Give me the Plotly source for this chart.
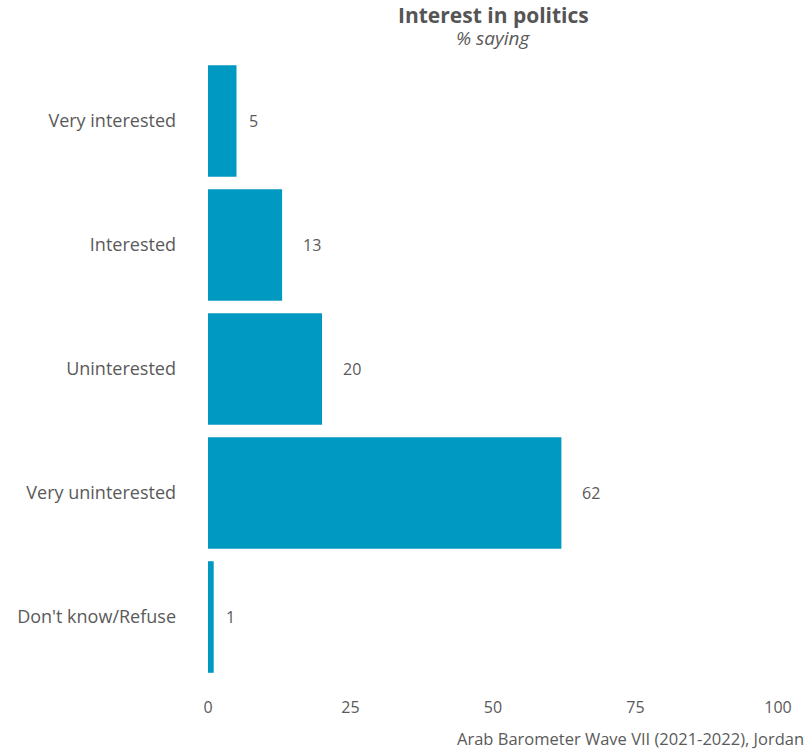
import plotly.graph_objects as go

categories = ["Very interested", "Interested", "Uninterested", "Very uninterested", "Don't know/Refuse"]
values = [5, 13, 20, 62, 1]
x_ticks = [0, 25, 50, 75, 100]
title = "Interest in politics"
subtitle = "% saying"
caption = "Arab Barometer Wave VII (2021-2022), Jordan"

BAR = "#0099C1"
TXT = "#5a5a5a"
FONT = "Open Sans"

fig = go.Figure()
fig.add_trace(go.Bar(
    y=categories, x=values, orientation="h",
    marker=dict(color=BAR, line=dict(width=0)),
    width=0.9, hoverinfo="skip",
))

for c, v in zip(categories, values):
    s = str(v)
    fig.add_annotation(x=v, y=c, text=s, showarrow=False, xanchor="left",
                       xshift=1 + 9 * len(s), font=dict(size=16, color=TXT, family=FONT))

fig.update_layout(
    width=809, height=750,
    paper_bgcolor="white", plot_bgcolor="white",
    margin=dict(l=208, r=31, t=59, b=71),
    showlegend=False,
    font=dict(family=FONT, color=TXT),
)
fig.add_annotation(text=f"<b>{title}</b>", xref="paper", yref="paper", x=0.5, y=1,
                   yshift=44, yanchor="middle", showarrow=False,
                   font=dict(size=21, color="#555555", family=FONT))
fig.add_annotation(text=f"<i>{subtitle}</i>", xref="paper", yref="paper", x=0.5, y=1,
                   yshift=21, yanchor="middle", showarrow=False,
                   font=dict(size=19, color=TXT, family=FONT))
fig.update_xaxes(range=[0, 100], tickvals=x_ticks, showgrid=False, zeroline=False,
                 showline=False, ticks="", tickfont=dict(size=16, color=TXT, family=FONT),
                 ticklabelstandoff=17)
fig.update_yaxes(categoryorder="array", categoryarray=categories[::-1], showgrid=False,
                 zeroline=False, showline=False, ticks="", ticklabelstandoff=31,
                 tickfont=dict(size=18, color=TXT, family=FONT))

fig.add_annotation(text=caption, xref="paper", yref="paper",
                   x=1, y=0, xanchor="right", yanchor="top", yshift=-46, xshift=28, showarrow=False,
                   font=dict(size=16.5, color=TXT, family=FONT))

fig.write_html("out.html", config={"displayModeBar": False},
               post_script="document.body.style.margin='0';")
